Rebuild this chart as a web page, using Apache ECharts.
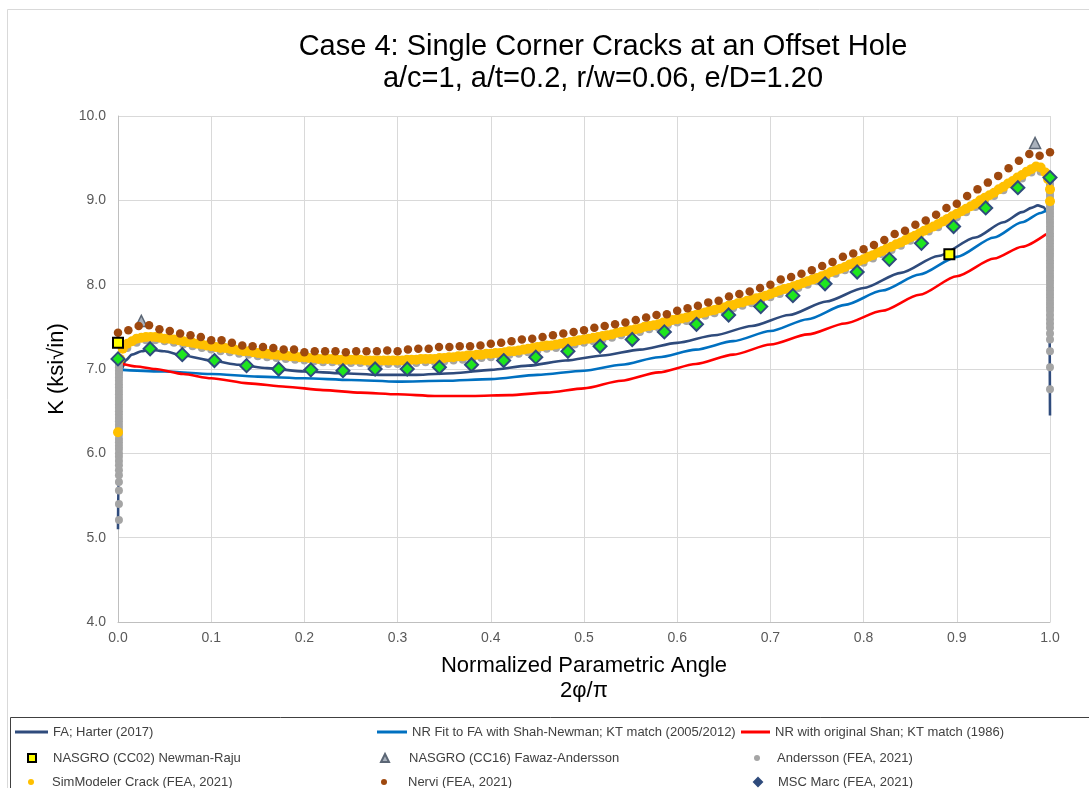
<!DOCTYPE html>
<html>
<head>
<meta charset="utf-8">
<title>Case 4: Single Corner Cracks at an Offset Hole</title>
<script src="https://cdn.jsdelivr.net/npm/echarts@6/dist/echarts.min.js"></script>
<style>
  html, body { margin: 0; padding: 0; background: #ffffff; }
  #chart { width: 1089px; height: 788px; }
</style>
</head>
<body>
<div id="chart"></div>
<script>
// ---- Axis ticks ----
const xTickLabels = ['0.0','0.1','0.2','0.3','0.4','0.5','0.6','0.7','0.8','0.9','1.0'];
const yTickLabels = ['4.0','5.0','6.0','7.0','8.0','9.0','10.0'];

// ---- Series names (legend, row by row) ----
const seriesNames = [
  'FA; Harter (2017)',
  'NR Fit to FA with Shah-Newman; KT match (2005/2012)',
  'NR with original Shan; KT match (1986)',
  'NASGRO (CC02) Newman-Raju',
  'NASGRO (CC16) Fawaz-Andersson',
  'Andersson (FEA, 2021)',
  'SimModeler Crack (FEA, 2021)',
  'Nervi (FEA, 2021)',
  'MSC Marc (FEA, 2021)'
];

// ---- FA; Harter (2017)  [2phi/pi, K] ----
const harterFA = [
  [0.000, 5.10], [0.0005, 5.80], [0.001, 6.40], [0.002, 6.80], [0.004, 7.00],
  [0.008, 7.10], [0.015, 7.17], [0.025, 7.21], [0.035, 7.23], [0.050, 7.21],
  [0.070, 7.16], [0.100, 7.10], [0.130, 7.05], [0.160, 7.01], [0.200, 6.97],
  [0.240, 6.95], [0.280, 6.93], [0.320, 6.93], [0.360, 6.95], [0.400, 6.99],
  [0.440, 7.04], [0.480, 7.10], [0.520, 7.16], [0.560, 7.23], [0.600, 7.31],
  [0.640, 7.40], [0.680, 7.51], [0.720, 7.64], [0.760, 7.80], [0.800, 7.96],
  [0.840, 8.14], [0.880, 8.34], [0.920, 8.56], [0.950, 8.74], [0.970, 8.86],
  [0.980, 8.91], [0.987, 8.94], [0.993, 8.92], [0.997, 8.86], [0.999, 8.60],
  [1.000, 6.45]
];

// ---- NR fit to FA with Shah-Newman ----
const nrShahNewman = [
  [0.005, 6.99], [0.050, 6.97], [0.100, 6.94], [0.150, 6.91], [0.200, 6.89],
  [0.250, 6.87], [0.300, 6.85], [0.350, 6.86], [0.400, 6.88], [0.450, 6.93],
  [0.500, 6.98], [0.540, 7.05], [0.580, 7.14], [0.620, 7.23], [0.660, 7.33],
  [0.700, 7.45], [0.740, 7.59], [0.780, 7.76], [0.820, 7.93], [0.860, 8.12],
  [0.900, 8.33], [0.940, 8.56], [0.970, 8.74], [0.990, 8.85], [0.996, 8.88]
];

// ---- NR with original Shan ----
const nrShan = [
  [0.005, 7.06], [0.020, 7.03], [0.040, 7.00], [0.070, 6.94], [0.100, 6.89],
  [0.140, 6.83], [0.180, 6.79], [0.220, 6.75], [0.260, 6.72], [0.300, 6.70],
  [0.340, 6.68], [0.380, 6.68], [0.420, 6.69], [0.460, 6.72], [0.500, 6.77],
  [0.540, 6.86], [0.580, 6.96], [0.620, 7.06], [0.660, 7.17], [0.700, 7.29],
  [0.740, 7.41], [0.780, 7.54], [0.820, 7.69], [0.860, 7.88], [0.900, 8.10],
  [0.940, 8.31], [0.970, 8.45], [0.996, 8.60]
];

// ---- NASGRO point solutions ----
const nasgroCC02 = [[0.000, 7.31], [0.892, 8.36]];
const nasgroCC16 = [[0.025, 7.57], [0.984, 9.68]];

// ---- Andersson (FEA, 2021) ----
const anderssonEdgeX0 = 0.001;
const anderssonEdge0 = [
  5.21, 5.40, 5.56, 5.66, 5.74, 5.80, 5.86, 5.91, 5.96, 6.00, 6.05, 6.09,
  6.13, 6.17, 6.22, 6.26, 6.30, 6.34, 6.38, 6.42, 6.46, 6.50, 6.54, 6.58,
  6.62, 6.66, 6.70, 6.74, 6.78, 6.82, 6.86, 6.90, 6.94, 6.98, 7.02, 7.06, 7.10
];
const anderssonCurveStart = 0.01, anderssonCurveStep = 0.01;
const anderssonCurve = [
  7.25, 7.31, 7.34, 7.34, 7.33, 7.31, 7.29, 7.27, 7.25, 7.23,
  7.21, 7.20, 7.18, 7.17, 7.15, 7.14, 7.13, 7.12, 7.11, 7.10,
  7.09, 7.08, 7.08, 7.07, 7.07, 7.07, 7.06, 7.06, 7.06, 7.06,
  7.07, 7.07, 7.08, 7.08, 7.09, 7.10, 7.11, 7.12, 7.13, 7.14,
  7.15, 7.17, 7.18, 7.20, 7.22, 7.24, 7.25, 7.27, 7.29, 7.31,
  7.33, 7.35, 7.37, 7.40, 7.42, 7.44, 7.47, 7.49, 7.52, 7.55,
  7.57, 7.60, 7.63, 7.66, 7.69, 7.72, 7.75, 7.78, 7.81, 7.85,
  7.89, 7.92, 7.96, 8.00, 8.04, 8.08, 8.13, 8.17, 8.22, 8.26,
  8.31, 8.36, 8.41, 8.46, 8.52, 8.57, 8.63, 8.68, 8.74, 8.80,
  8.86, 8.92, 8.99, 9.05, 9.12, 9.19, 9.26, 9.33, 9.34
];
const anderssonEdgeX1 = 1.0;
const anderssonEdge1 = [
  9.24, 9.20, 9.17, 9.13, 9.09, 9.05, 9.01, 8.97, 8.93, 8.89, 8.85, 8.81,
  8.77, 8.73, 8.69, 8.65, 8.61, 8.57, 8.53, 8.49, 8.45, 8.41, 8.37, 8.33,
  8.29, 8.25, 8.21, 8.17, 8.13, 8.09, 8.05, 8.01, 7.97, 7.93, 7.89, 7.85,
  7.81, 7.77, 7.73, 7.69, 7.64, 7.59, 7.54, 7.49, 7.42, 7.35, 7.21, 7.02, 6.76
];

// ---- SimModeler Crack (FEA, 2021) ----
const simCurveStart = 0.005, simCurveStep = 0.005;
const simModelerCurve = [
  7.24, 7.30, 7.33, 7.36, 7.37, 7.38, 7.38, 7.38, 7.37, 7.36,
  7.36, 7.35, 7.34, 7.33, 7.32, 7.31, 7.30, 7.29, 7.28, 7.27,
  7.26, 7.25, 7.25, 7.24, 7.23, 7.22, 7.21, 7.21, 7.20, 7.19,
  7.18, 7.18, 7.17, 7.17, 7.16, 7.16, 7.15, 7.15, 7.14, 7.14,
  7.13, 7.13, 7.12, 7.12, 7.12, 7.12, 7.11, 7.11, 7.11, 7.11,
  7.11, 7.11, 7.10, 7.10, 7.10, 7.10, 7.10, 7.10, 7.10, 7.10,
  7.10, 7.11, 7.11, 7.11, 7.12, 7.12, 7.12, 7.12, 7.13, 7.13,
  7.14, 7.14, 7.15, 7.15, 7.16, 7.16, 7.17, 7.17, 7.18, 7.18,
  7.19, 7.19, 7.20, 7.21, 7.21, 7.22, 7.23, 7.24, 7.25, 7.26,
  7.27, 7.28, 7.28, 7.29, 7.30, 7.31, 7.32, 7.33, 7.34, 7.35,
  7.36, 7.37, 7.38, 7.39, 7.40, 7.41, 7.43, 7.44, 7.45, 7.46,
  7.47, 7.48, 7.50, 7.51, 7.52, 7.53, 7.55, 7.56, 7.58, 7.59,
  7.60, 7.61, 7.63, 7.64, 7.66, 7.67, 7.69, 7.70, 7.72, 7.73,
  7.75, 7.76, 7.78, 7.79, 7.81, 7.82, 7.84, 7.85, 7.87, 7.89,
  7.91, 7.93, 7.95, 7.96, 7.98, 8.00, 8.02, 8.04, 8.06, 8.08,
  8.10, 8.12, 8.15, 8.17, 8.19, 8.21, 8.24, 8.26, 8.28, 8.30,
  8.33, 8.35, 8.38, 8.40, 8.43, 8.45, 8.48, 8.50, 8.53, 8.56,
  8.58, 8.61, 8.64, 8.67, 8.69, 8.72, 8.75, 8.78, 8.81, 8.84,
  8.87, 8.90, 8.93, 8.96, 9.00, 9.03, 9.06, 9.09, 9.13, 9.16,
  9.20, 9.23, 9.27, 9.30, 9.34, 9.37, 9.40, 9.39, 9.33
];
const simModelerEnds = [[0.000, 6.25], [0.002, 7.12], [0.998, 9.25], [1.000, 9.13], [1.000, 8.99]];

// ---- Nervi (FEA, 2021): 91 evenly spaced angles ----
const nerviStep = 1 / 90;
const nervi = [
  7.43, 7.46, 7.51, 7.52, 7.47, 7.45, 7.42, 7.40, 7.38, 7.34,
  7.34, 7.31, 7.28, 7.27, 7.26, 7.25, 7.23, 7.23, 7.20, 7.21,
  7.21, 7.21, 7.20, 7.21, 7.21, 7.21, 7.22, 7.21, 7.23, 7.24,
  7.24, 7.26, 7.26, 7.27, 7.27, 7.28, 7.30, 7.31, 7.33, 7.35,
  7.36, 7.38, 7.40, 7.42, 7.44, 7.46, 7.49, 7.51, 7.53, 7.55,
  7.58, 7.61, 7.64, 7.65, 7.69, 7.72, 7.75, 7.79, 7.81, 7.86,
  7.89, 7.92, 7.96, 8.00, 8.06, 8.09, 8.13, 8.17, 8.22, 8.27,
  8.33, 8.37, 8.42, 8.47, 8.53, 8.60, 8.64, 8.71, 8.76, 8.83,
  8.91, 8.96, 9.05, 9.13, 9.21, 9.29, 9.38, 9.47, 9.55, 9.53,
  9.57
];

// ---- MSC Marc (FEA, 2021): 30 evenly spaced angles ----
const mscStep = 1 / 29;
const mscMarc = [
  7.12, 7.24, 7.17, 7.10, 7.04, 7.00, 6.99, 6.98, 7.00, 7.00,
  7.02, 7.05, 7.10, 7.14, 7.21, 7.27, 7.35, 7.44, 7.53, 7.64,
  7.74, 7.87, 8.01, 8.15, 8.30, 8.49, 8.69, 8.91, 9.15, 9.27
];

// ---- build [x, y] pairs ----
const stepped = (vals, start, step) => vals.map((v, i) => [+(start + i * step).toFixed(5), v]);
const atX = (vals, x) => vals.map(v => [x, v]);

const anderssonData = atX(anderssonEdge0, anderssonEdgeX0)
  .concat(stepped(anderssonCurve, anderssonCurveStart, anderssonCurveStep))
  .concat(atX(anderssonEdge1, anderssonEdgeX1));
const simData = [simModelerEnds[0], simModelerEnds[1]]
  .concat(stepped(simModelerCurve, simCurveStart, simCurveStep))
  .concat(simModelerEnds.slice(2));
const nerviData = stepped(nervi, 0, nerviStep);
const mscData = stepped(mscMarc, 0, mscStep);

const FONT = "'Liberation Sans', Arial, sans-serif";
const NAVY = '#2F4B7C';

const lineSeries = (name, data, color) => ({
  name, type: 'line', data, showSymbol: false, symbol: 'none',
  smooth: 0.25, smoothMonotone: 'x',
  lineStyle: { color, width: 2.6 }, itemStyle: { color },
  z: 2, silent: true
});

const scatterSeries = (name, data, symbol, size, z, itemStyle) => ({
  name, type: 'scatter', data, symbol, symbolSize: size,
  z, silent: true, itemStyle: Object.assign({ opacity: 1 }, itemStyle)
});

const chart = echarts.init(document.getElementById('chart'), null, { renderer: 'canvas' });

// one legend block per entry, laid out in three columns
const legendSpec = [
  // name index, left, top, itemWidth, itemHeight, icon, text shift, icon style override
  [0, 15, 725.5, 33, 3, 'rect', 0],
  [1, 377, 725.5, 30, 3, 'rect', 0],
  [2, 741, 725.5, 29, 3, 'rect', 0],
  [3, 27, 751.5, 8, 8, null, 12],
  [4, 380, 751.5, 8, 8, null, 15],
  [5, 754, 751.5, 6, 6, null, 12],
  [6, 28, 775.5, 6, 6, null, 13],
  [7, 381, 775.5, 6, 6, null, 16],
  [8, 753, 775.5, 8, 8, null, 11, { color: NAVY, borderColor: NAVY }]
];
const legends = legendSpec.map(([idx, left, top, w, h, icon, shift, style]) => {
  const item = { name: seriesNames[idx] };
  if (icon) item.icon = icon;
  if (style) item.itemStyle = style;
  return {
    data: [item], left, top, itemWidth: w, itemHeight: h, padding: 0,
    selectedMode: false,
    textStyle: { fontFamily: FONT, fontSize: 13, color: '#404040', padding: [0, 0, 0, shift] }
  };
});

chart.setOption({
  animation: false,
  backgroundColor: '#ffffff',
  title: {
    text: 'Case 4: Single Corner Cracks at an Offset Hole\na/c=1, a/t=0.2, r/w=0.06, e/D=1.20',
    left: 603, top: 31, textAlign: 'center', padding: 0,
    textStyle: { fontFamily: FONT, fontSize: 29, fontWeight: 'normal', color: '#000000', lineHeight: 32 }
  },
  legend: legends,
  graphic: [
    { type: 'rect', silent: true, z: -10,
      shape: { x: 7.5, y: 9.5, width: 1200, height: 1000 },
      style: { fill: 'none', stroke: '#D9D9D9', lineWidth: 1 } },
    { type: 'rect', silent: true, z: -10,
      shape: { x: 10.5, y: 717.5, width: 1200, height: 200 },
      style: { fill: 'none', stroke: '#404040', lineWidth: 1 } }
  ],
  grid: { left: 118, right: 39, top: 116, bottom: 166, outerBoundsMode: 'none' },
  xAxis: {
    type: 'value', min: 0, max: 1, interval: 0.1,
    name: 'Normalized Parametric Angle\n2φ/π',
    nameLocation: 'middle', nameGap: 31,
    nameTextStyle: { fontFamily: FONT, fontSize: 22, color: '#000000', lineHeight: 25 },
    axisLine: { show: true, lineStyle: { color: '#BFBFBF', width: 1 } },
    axisTick: { show: false },
    splitLine: { show: true, lineStyle: { color: '#D9D9D9', width: 1 } },
    axisLabel: {
      fontFamily: FONT, fontSize: 14, color: '#595959', margin: 9,
      formatter: v => xTickLabels[Math.round(v * 10)]
    }
  },
  yAxis: {
    type: 'value', min: 4, max: 10, interval: 1,
    name: 'K (ksi√in)',
    nameLocation: 'middle', nameGap: 41,
    nameTextStyle: { fontFamily: FONT, fontSize: 22, color: '#000000' },
    axisLine: { show: true, lineStyle: { color: '#BFBFBF', width: 1 } },
    axisTick: { show: false },
    splitLine: { show: true, lineStyle: { color: '#D9D9D9', width: 1 } },
    axisLabel: {
      fontFamily: FONT, fontSize: 14, color: '#595959', margin: 12,
      formatter: v => yTickLabels[Math.round(v) - 4]
    }
  },
  series: [
    lineSeries(seriesNames[0], harterFA, NAVY),
    lineSeries(seriesNames[1], nrShahNewman, '#0070C0'),
    lineSeries(seriesNames[2], nrShan, '#FF0000'),
    scatterSeries(seriesNames[5], anderssonData, 'circle', 8, 3, { color: '#A5A5A5' }),
    scatterSeries(seriesNames[6], simData, 'circle', 10, 4, { color: '#FFC000' }),
    scatterSeries(seriesNames[4], nasgroCC16, 'triangle', 11, 5,
      { color: '#A9B1BC', borderColor: '#5B6675', borderWidth: 1.5 }),
    scatterSeries(seriesNames[7], nerviData, 'circle', 8.5, 6, { color: '#9E480E' }),
    scatterSeries(seriesNames[8], mscData, 'diamond', 13, 7,
      { color: '#1EE61E', borderColor: NAVY, borderWidth: 2 }),
    scatterSeries(seriesNames[3], nasgroCC02, 'rect', 10, 8,
      { color: '#FFFF00', borderColor: '#000000', borderWidth: 2 })
  ]
});
</script>
</body>
</html>
